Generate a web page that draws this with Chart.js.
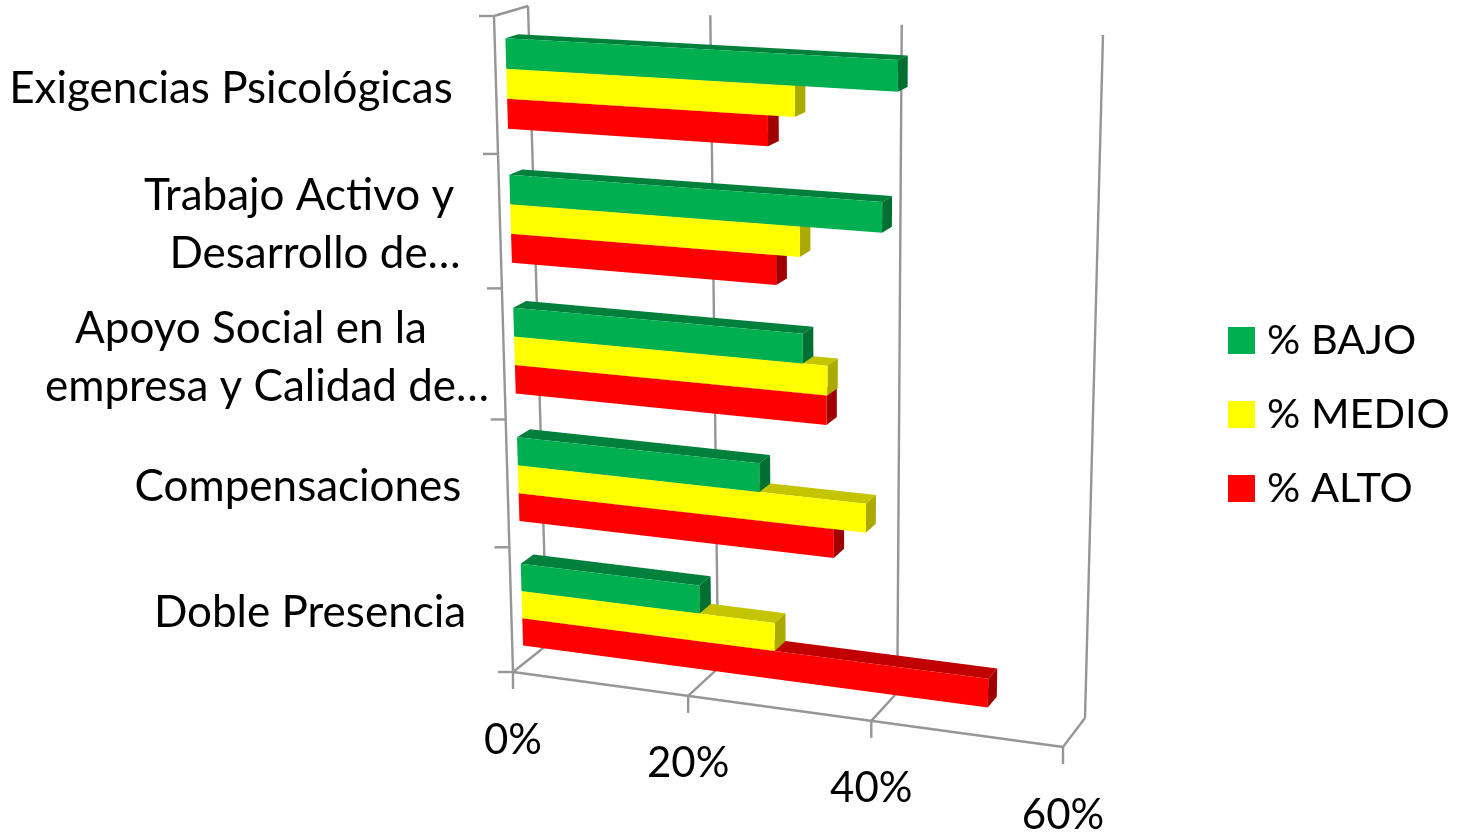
<!DOCTYPE html>
<html lang="es">
<head>
<meta charset="utf-8">
<title>Riesgos psicosociales</title>
<script src="https://cdn.jsdelivr.net/npm/chart.js@4"></script>
<style>
  html, body { margin: 0; padding: 0; background: #fff; }
  #wrap { position: relative; width: 1458px; height: 835px; }
</style>
</head>
<body>
<div id="wrap"><canvas id="chart"></canvas></div>
<script>
// Data
const categories = [
    'Exigencias Psicológicas',
    ['Trabajo Activo y', 'Desarrollo de…'],
    ['Apoyo Social en la', 'empresa y Calidad de…'],
    'Compensaciones',
    'Doble Presencia'
];
const bajo = [41.4, 39.9, 31.7, 27, 20.3];
const medio = [30.9, 31.4, 34.3, 38.4, 28.6];
const alto = [28.1, 28.9, 34.2, 35, 51.4];
const axisTicks = [0, 20, 40, 60];

// Look of the 3D box: front wall and back wall corners (TL, TR, BR, BL)
const FRONT = [[494, 16], [1081, 47], [1063, 747], [513, 672]];
const BACK = [[528, 6], [1103, 35], [1085, 718], [547, 645]];
const BAR_Z = [0.27, 0.65];
const BAR_NUDGE = 1.5;
const GRID = '#969696';
const SHADES = {
    '#00B050': { top: '#00803A', side: '#006F32' },
    '#FFFF00': { top: '#C4C400', side: '#AAAA00' },
    '#FF0000': { top: '#C00000', side: '#A00000' }
};
// centre x of every category text line
const LABEL_X = [[231], [299, 315], [251, 267], [298], [310]];
const LABEL_LINE = 58;
const LEGEND = { x: 1228, y: 340.5, step: 74, box: 27, gap: 12 };

// unit square -> quad (projective)
function quadMapper(q) {
    const [[x0, y0], [x1, y1], [x2, y2], [x3, y3]] = q;
    const dx1 = x1 - x2, dx2 = x3 - x2, sx = x0 - x1 + x2 - x3;
    const dy1 = y1 - y2, dy2 = y3 - y2, sy = y0 - y1 + y2 - y3;
    const det = dx1 * dy2 - dx2 * dy1;
    const g = (sx * dy2 - dx2 * sy) / det;
    const h = (dx1 * sy - sx * dy1) / det;
    const a = x1 - x0 + g * x1, b = x3 - x0 + h * x3;
    const d = y1 - y0 + g * y1, e = y3 - y0 + h * y3;
    return (s, t) => {
        const w = g * s + h * t + 1;
        return [(a * s + b * t + x0) / w, (d * s + e * t + y0) / w];
    };
}
const toFront = quadMapper(FRONT);
const toBack = quadMapper(BACK);

// chart pixel + depth -> page position
function project(chart, px, py, z) {
    const area = chart.chartArea;
    const s = (px - area.left) / (area.right - area.left);
    const t = (py - area.top) / (area.bottom - area.top);
    const f = toFront(s, t), b = toBack(s, t);
    return [f[0] + (b[0] - f[0]) * z, f[1] + (b[1] - f[1]) * z];
}

function poly(ctx, pts, fill) {
    ctx.beginPath();
    pts.forEach((p, i) => {
        const px = p[0] + BAR_NUDGE, py = p[1] + BAR_NUDGE;
        i ? ctx.lineTo(px, py) : ctx.moveTo(px, py);
    });
    ctx.closePath();
    ctx.fillStyle = fill;
    ctx.fill();
}

function line(ctx, a, b) {
    ctx.beginPath();
    ctx.moveTo(a[0], a[1]);
    ctx.lineTo(b[0], b[1]);
    ctx.stroke();
}

const box3d = {
    id: 'box3d',
    // walls, floor and ticks
    beforeDatasetsDraw(chart) {
        const { ctx, chartArea: area, scales: { x } } = chart;
        ctx.save();
        ctx.strokeStyle = GRID;
        ctx.lineWidth = 2.4;
        const floor = area.bottom;
        axisTicks.forEach(value => {
            const px = x.getPixelForValue(value);
            const f = project(chart, px, floor, 0);
            const b = project(chart, px, floor, 1);
            line(ctx, f, b);
            line(ctx, b, project(chart, px, area.top, 1));
            line(ctx, f, [f[0], f[1] + 17]);
        });
        const l = x.getPixelForValue(0), r = x.getPixelForValue(60);
        line(ctx, project(chart, l, floor, 0), project(chart, r, floor, 0));
        line(ctx, project(chart, l, area.top, 0), project(chart, l, floor, 0));
        line(ctx, project(chart, l, area.top, 0), project(chart, l, area.top, 1));
        const step = (area.bottom - area.top) / categories.length;
        for (let i = 0; i <= categories.length; i++) {
            const p = project(chart, l, area.top + i * step, 0);
            line(ctx, p, [p[0] - 15, p[1]]);
        }
        ctx.restore();
    },
    // each bar as a box, built from the geometry of its Chart.js element
    beforeDatasetDraw(chart, args) {
        const { ctx } = chart;
        const color = chart.data.datasets[args.index].backgroundColor;
        const shade = SHADES[color];
        args.meta.data.forEach(bar => {
            const { x, y, base, height } = bar.getProps(['x', 'y', 'base', 'height'], true);
            const top = y - height / 2, bottom = y + height / 2;
            const [z0, z1] = BAR_Z;
            poly(ctx, [project(chart, base, top, z0), project(chart, x, top, z0),
                project(chart, x, top, z1), project(chart, base, top, z1)], shade.top);
            poly(ctx, [project(chart, x, top, z0), project(chart, x, top, z1),
                project(chart, x, bottom, z1), project(chart, x, bottom, z0)], shade.side);
            poly(ctx, [project(chart, base, top, z0), project(chart, x, top, z0),
                project(chart, x, bottom, z0), project(chart, base, bottom, z0)], color);
        });
        return false;
    },
    // axis texts and legend
    afterDatasetsDraw(chart) {
        const { ctx, chartArea: area, scales: { x, y } } = chart;
        ctx.save();
        ctx.fillStyle = '#000';
        ctx.textBaseline = 'middle';
        ctx.textAlign = 'center';
        ctx.font = '42px Lato';
        axisTicks.forEach(value => {
            const p = project(chart, x.getPixelForValue(value), area.bottom, 0);
            ctx.fillText(value + '%', p[0], p[1] + 68);
        });
        ctx.font = '44px Lato';
        categories.forEach((label, i) => {
            const lines = Array.isArray(label) ? label : [label];
            const p = project(chart, x.getPixelForValue(0), y.getPixelForValue(i), 0);
            lines.forEach((text, j) => {
                const off = (j - (lines.length - 1) / 2) * LABEL_LINE;
                ctx.fillText(text, LABEL_X[i][j], p[1] + 3 + off);
            });
        });
        ctx.textAlign = 'left';
        ctx.font = '41.5px Lato';
        chart.data.datasets.forEach((ds, i) => {
            const cy = LEGEND.y + i * LEGEND.step;
            ctx.fillStyle = ds.backgroundColor;
            ctx.fillRect(LEGEND.x, cy - LEGEND.box / 2, LEGEND.box, LEGEND.box);
            ctx.fillStyle = '#000';
            ctx.fillText(ds.label, LEGEND.x + LEGEND.box + LEGEND.gap, cy);
        });
        ctx.restore();
    }
};

new Chart(document.getElementById('chart'), {
    type: 'bar',
    data: {
        labels: categories,
        datasets: [
            { label: '% BAJO', data: bajo, backgroundColor: '#00B050' },
            { label: '% MEDIO', data: medio, backgroundColor: '#FFFF00' },
            { label: '% ALTO', data: alto, backgroundColor: '#FF0000' }
        ]
    },
    options: {
        indexAxis: 'y',
        responsive: true,
        maintainAspectRatio: false,
        animation: false,
        categoryPercentage: 0.66,
        barPercentage: 1,
        scales: {
            x: {
                min: 0,
                max: 60,
                ticks: { display: false },
                grid: { display: false },
                border: { display: false }
            },
            y: {
                ticks: { display: false },
                grid: { display: false },
                border: { display: false }
            }
        },
        plugins: {
            tooltip: { enabled: false },
            legend: { display: false }
        }
    },
    plugins: [box3d]
});
</script>
</body>
</html>
